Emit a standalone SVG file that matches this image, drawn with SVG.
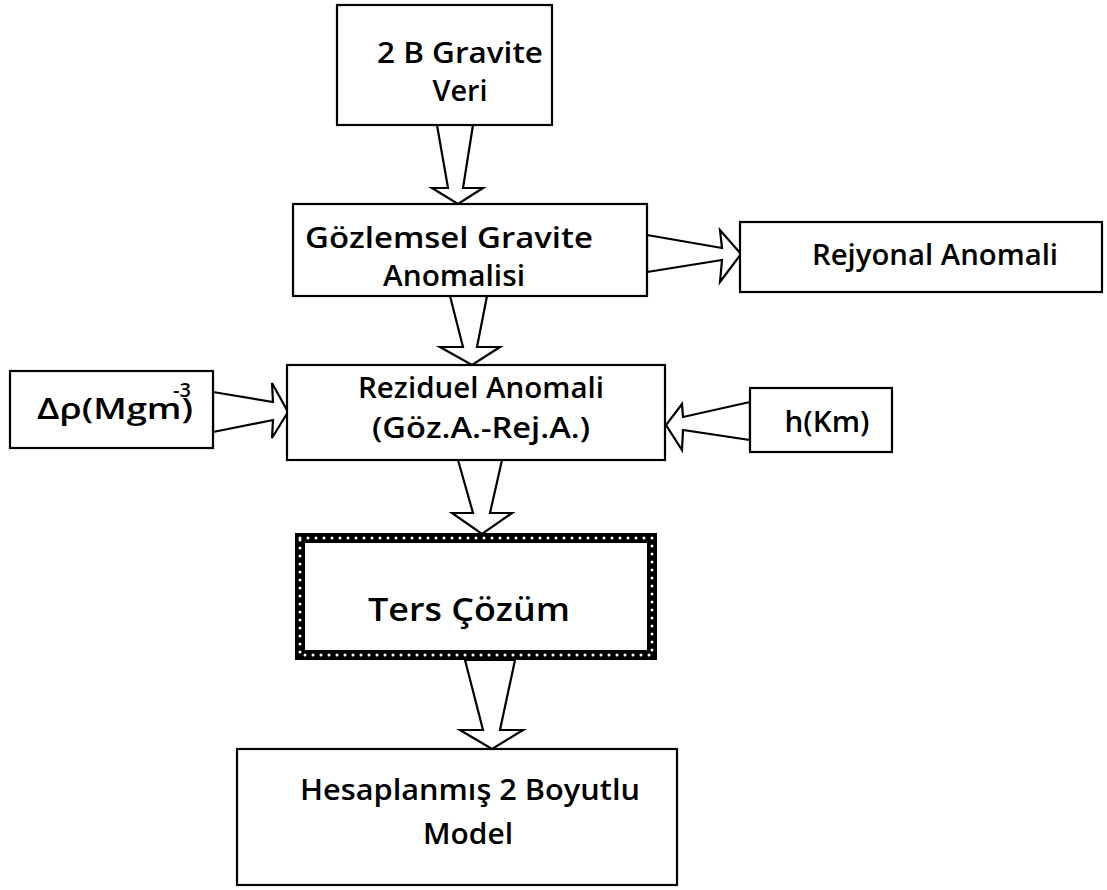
<svg xmlns="http://www.w3.org/2000/svg" width="1107" height="890" viewBox="0 0 1107 890">
<style>
.box{fill:#fff;stroke:#000;stroke-width:2.2}
.arr{fill:#fff;stroke:#000;stroke-width:2.2;stroke-linejoin:miter}
.t{font-family:"Open Sans","DejaVu Sans",sans-serif;font-size:28px;font-weight:600;fill:#000;text-anchor:middle}
</style>
<rect width="1107" height="890" fill="#fff"/>
<g id="connectors">
<polygon class="arr" points="437,125 448,188 432,188 458,204 483,188 463,188 473,125"/>
<polygon class="arr" points="450,296 463,347 440,347 472,365 500,347 477,347 487,296"/>
<polygon class="arr" points="458,460 473,513 452,513 482,534 512,513 490,513 502,460"/>
<polygon class="arr" points="465,660 483,730 460,730 492,749 523,730 500,730 515,660"/>
<polygon class="arr" points="647,235 722,248 720,230 741,254 720,282 722,260 647,272"/>
<polygon class="arr" points="213,392 273,402 272,383 288,412 272,438 273,420 213,432"/>
<polygon class="arr" points="750,402 683,417 682,404 666,425 682,450 683,430 750,440"/>
</g>
<g id="n1">
<rect class="box" x="337" y="5" width="215" height="120"/>
<text class="t" x="460" y="63" textLength="166" lengthAdjust="spacingAndGlyphs">2 B Gravite</text>
<text class="t" x="460" y="101" textLength="55" lengthAdjust="spacingAndGlyphs">Veri</text>
</g>
<g id="n2">
<rect class="box" x="293" y="204" width="354" height="92"/>
<text class="t" x="449" y="248" textLength="288" lengthAdjust="spacingAndGlyphs">Gözlemsel Gravite</text>
<text class="t" x="454" y="286" textLength="142" lengthAdjust="spacingAndGlyphs">Anomalisi</text>
</g>
<g id="n3">
<rect class="box" x="740" y="222" width="362" height="70"/>
<text class="t" x="935" y="265" textLength="246" lengthAdjust="spacingAndGlyphs">Rejyonal Anomali</text>
</g>
<g id="n4">
<rect class="box" x="287" y="365" width="378" height="95"/>
<text class="t" x="481" y="398" textLength="246" lengthAdjust="spacingAndGlyphs">Reziduel Anomali</text>
<text class="t" x="481" y="438" textLength="218" lengthAdjust="spacingAndGlyphs">(Göz.A.-Rej.A.)</text>
</g>
<g id="n5">
<rect class="box" x="10" y="371" width="203" height="77"/>
<text class="t" x="37" y="419" style="text-anchor:start" textLength="156" lengthAdjust="spacingAndGlyphs">Δρ(Mgm)</text>
<text class="t" x="173" y="397" style="text-anchor:start;font-size:20px">-3</text>
</g>
<g id="n6">
<rect class="box" x="750" y="388" width="142" height="64"/>
<text class="t" x="827" y="432" textLength="85" lengthAdjust="spacingAndGlyphs">h(Km)</text>
</g>
<g id="n7">
<rect x="300" y="538" width="352" height="117" fill="#fff" stroke="#000" stroke-width="10"/>
<rect x="300" y="538" width="352" height="117" fill="none" stroke="#fff" stroke-width="3" stroke-linecap="round" stroke-dasharray="0 8"/>
<text class="t" x="469" y="621" style="font-size:32px" textLength="202" lengthAdjust="spacingAndGlyphs">Ters Çözüm</text>
</g>
<g id="n8">
<rect class="box" x="237" y="749" width="440" height="136"/>
<text class="t" x="470" y="800" textLength="340" lengthAdjust="spacingAndGlyphs">Hesaplanmış 2 Boyutlu</text>
<text class="t" x="468" y="844" textLength="90" lengthAdjust="spacingAndGlyphs">Model</text>
</g>
</svg>
